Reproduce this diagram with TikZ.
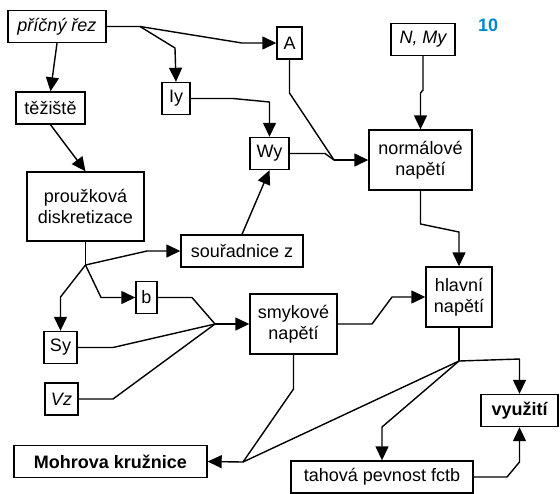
\documentclass[tikz,border=0pt]{standalone}
\usepackage{fontspec}
\setmainfont{Liberation Sans}
\usetikzlibrary{arrows.meta}
\definecolor{numblue}{RGB}{0,136,204}
\tikzset{>={Triangle[length=7pt,width=6.5pt]},
         box/.style={draw,line width=0.7pt,inner xsep=1pt,inner ysep=0pt,
                     minimum height=16pt,align=center,
                     font=\fontsize{9}{10.5}\selectfont},
         tall/.style={minimum height=30pt},
         link/.style={line width=0.7pt,line join=round}}

\begin{document}
\begin{tikzpicture}[x=0.5pt,y=-0.5pt]
\useasboundingbox (0,0) rectangle (560,493);
\node[box,minimum width=49pt] (rez) at (57,26.5) {\itshape příčný řez};
\node[box,minimum width=34.5pt] (tez) at (50.5,108) {těžiště};
\node[box,minimum width=14pt] (Iy) at (176,98.5) {Iy};
\node[box,minimum width=12.5pt] (A) at (289.5,43) {A};
\node[box,minimum width=32pt] (NMy) at (423,39.5) {\itshape N, My};
\node[box,minimum width=19.5pt] (Wy) at (269.5,153.5) {Wy};
\node[box,tall,minimum height=34.5pt,minimum width=58.5pt] (disk) at (85.5,206.5) {proužková\\diskretizace};
\node[box,tall,minimum width=51.5pt] (norm) at (420.5,160) {normálové\\napětí};
\node[box,minimum width=61pt] (sour) at (242,251) {souřadnice z};
\node[box,minimum width=10.5pt] (b) at (146.5,297.5) {b};
\node[box,minimum width=16.5pt] (Sy) at (60.5,347.5) {Sy};
\node[box,minimum width=16.5pt] (Vz) at (61.5,399) {\itshape Vz};
\node[box,tall,minimum width=43.5pt] (smyk) at (293.5,324) {smykové\\napětí};
\node[box,tall,minimum width=33pt] (hlav) at (459,297) {hlavní\\napětí};
\node[box,minimum width=38.5pt] (vyuz) at (519.5,410.5) {\bfseries využití};
\node[box,minimum width=91pt] (pevn) at (382,477) {tahová pevnost fctb};
\node[box,minimum width=96.5pt] (mohr) at (110.5,461.5) {\bfseries Mohrova kružnice};
\node[font=\bfseries\fontsize{9}{9}\selectfont,text=numblue] (cislo) at (488,25) {10};

\coordinate (r1) at (140,26.5);
\coordinate (n1) at (334,160);
\coordinate (d1) at (85.5,265);
\coordinate (s1) at (215,324);
\coordinate (h1) at (459,361);
\coordinate (m1) at (243,462);

\draw[link,->] (rez.south) -- (tez.north);
\draw[link,->] (tez.south) -- (disk.north);
\draw[link,->] (rez.east) -- (r1) -- (242,43) -- (A.west);
\draw[link,->] (r1) -- (175,48) -- (Iy.north);
\draw[link,->] (Iy.east) -- (233,98.5) -- (269.5,102) -- (Wy.north);
\draw[link,->] (sour.north) -- (Wy.south);
\draw[link] (A.south) -- (289.5,93) -- (n1);
\draw[link] (Wy.east) -- (325,153.5) -- (n1);
\draw[link,->] (n1) -- (norm.west);
\draw[link,->] (NMy.south) -- (423,90) -- (420.5,93) -- (norm.north);
\draw[link,->] (norm.south) -- (420.5,224) -- (459,232) -- (hlav.north);
\draw[link] (disk.south) -- (d1);
\draw[link,->] (d1) -- (147,251) -- (sour.west);
\draw[link,->] (d1) -- (60.5,297) -- (Sy.north);
\draw[link,->] (d1) -- (101,297.5) -- (b.west);
\draw[link] (b.east) -- (192,297.5) -- (s1);
\draw[link] (Sy.east) -- (113,347.5) -- (s1);
\draw[link] (Vz.east) -- (113,399) -- (s1);
\draw[link,->] (s1) -- (smyk.west);
\draw[link,->] (smyk.east) -- (372,324) -- (392,297) -- (hlav.west);
\draw[link] (hlav.south) -- (h1);
\draw[link,->] (h1) -- (519.5,359) -- (vyuz.north);
\draw[link,->] (h1) -- (382,427) -- (pevn.north);
\draw[link] (h1) -- (m1);
\draw[link] (smyk.south) -- (293.5,389) -- (m1);
\draw[link,->] (m1) -- (mohr.east);
\draw[link,->] (pevn.east) -- (507,477) -- (519.5,462) -- (vyuz.south);
\end{tikzpicture}
\end{document}
